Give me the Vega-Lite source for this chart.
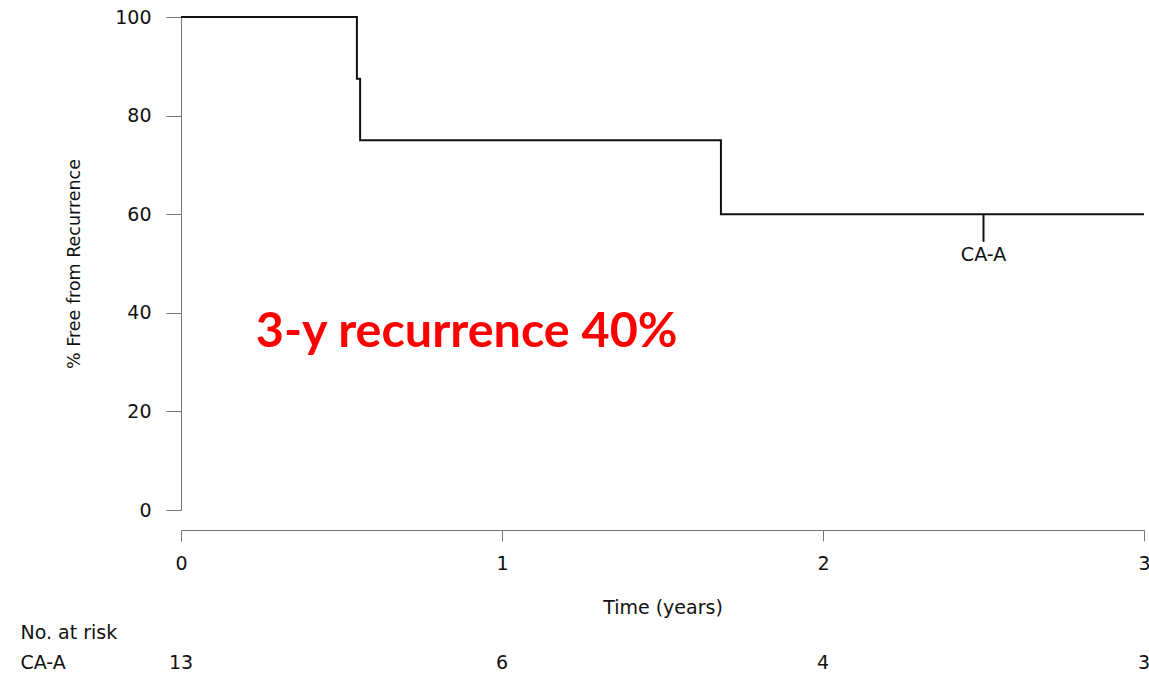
{
  "$schema": "https://vega.github.io/schema/vega-lite/v6.json",
  "autosize": {"type": "none"},
  "width": 963,
  "height": 493,
  "padding": {"left": 181, "top": 17, "right": 5, "bottom": 164},
  "background": "white",
  "config": {"view": {"stroke": null}, "font": "DejaVu Sans"},
  "datasets": {
    "km": [
      {"t": 0, "s": 100},
      {"t": 0.548, "s": 87.5},
      {"t": 0.558, "s": 75},
      {"t": 1.682, "s": 60},
      {"t": 3, "s": 60}
    ],
    "censor": [{"t": 2.5, "s": 60, "s2": 54.4, "group": "CA-A"}],
    "risk": [
      {"t": 0, "n": "13"},
      {"t": 1, "n": "6"},
      {"t": 2, "n": "4"},
      {"t": 3, "n": "3"}
    ]
  },
  "layer": [
    {
      "data": {"name": "km"},
      "mark": {"type": "line", "interpolate": "step-after", "color": "#111", "strokeWidth": 2},
      "encoding": {
        "x": {
          "field": "t", "type": "quantitative",
          "scale": {"domain": [0, 3], "nice": false, "zero": false},
          "axis": {
            "title": "Time (years)", "values": [0, 1, 2, 3], "format": "d",
            "grid": false, "offset": 20, "tickSize": 11,
            "domainColor": "#777", "tickColor": "#777",
            "labelFont": "DejaVu Sans", "labelFontSize": 19, "labelColor": "#111", "labelPadding": 13,
            "labelFlush": false, "labelOverlap": false,
            "titleFont": "DejaVu Sans", "titleFontSize": 19, "titleFontWeight": "normal", "titleColor": "#111",
            "titlePadding": 25
          }
        },
        "y": {
          "field": "s", "type": "quantitative",
          "scale": {"domain": [0, 100], "nice": false},
          "axis": {
            "title": "% Free from Recurrence", "values": [0, 20, 40, 60, 80, 100],
            "grid": false, "tickSize": 15,
            "domainColor": "#777", "tickColor": "#777",
            "labelFont": "DejaVu Sans", "labelFontSize": 19, "labelColor": "#111", "labelPadding": 15,
            "labelFlush": false, "labelOverlap": false,
            "titleFont": "DejaVu Sans", "titleFontSize": 17.5, "titleFontWeight": "normal", "titleColor": "#111",
            "titlePadding": 31
          }
        }
      }
    },
    {
      "data": {"name": "censor"},
      "mark": {"type": "rule", "color": "#111", "strokeWidth": 2},
      "encoding": {
        "x": {"field": "t", "type": "quantitative"},
        "y": {"field": "s", "type": "quantitative"},
        "y2": {"field": "s2"}
      }
    },
    {
      "data": {"name": "censor"},
      "mark": {"type": "text", "font": "DejaVu Sans", "fontSize": 19, "color": "#111", "baseline": "middle", "align": "center"},
      "encoding": {
        "x": {"field": "t", "type": "quantitative"},
        "y": {"datum": 51.8},
        "text": {"field": "group"}
      }
    },
    {
      "data": {"name": "risk"},
      "mark": {"type": "text", "font": "DejaVu Sans", "fontSize": 19, "color": "#111", "baseline": "middle", "align": "center"},
      "encoding": {
        "x": {"field": "t", "type": "quantitative"},
        "y": {"datum": -31},
        "text": {"field": "n"}
      }
    },
    {
      "data": {"values": [{"label": "No. at risk", "t": -0.5, "row": -24.9}, {"label": "CA-A", "t": -0.5, "row": -31}]},
      "mark": {"type": "text", "font": "DejaVu Sans", "fontSize": 19, "color": "#111", "baseline": "middle", "align": "left"},
      "encoding": {
        "x": {"field": "t", "type": "quantitative"},
        "y": {"field": "row", "type": "quantitative"},
        "text": {"field": "label"}
      }
    },
    {
      "data": {"values": [{"note": "3-y recurrence 40%", "t": 0.233, "s": 36.2}]},
      "mark": {"type": "text", "font": "Lato", "fontWeight": "bold", "fontSize": 48.5, "color": "#ff0000", "baseline": "middle", "align": "left"},
      "encoding": {
        "x": {"field": "t", "type": "quantitative"},
        "y": {"field": "s", "type": "quantitative"},
        "text": {"field": "note"}
      }
    }
  ]
}
